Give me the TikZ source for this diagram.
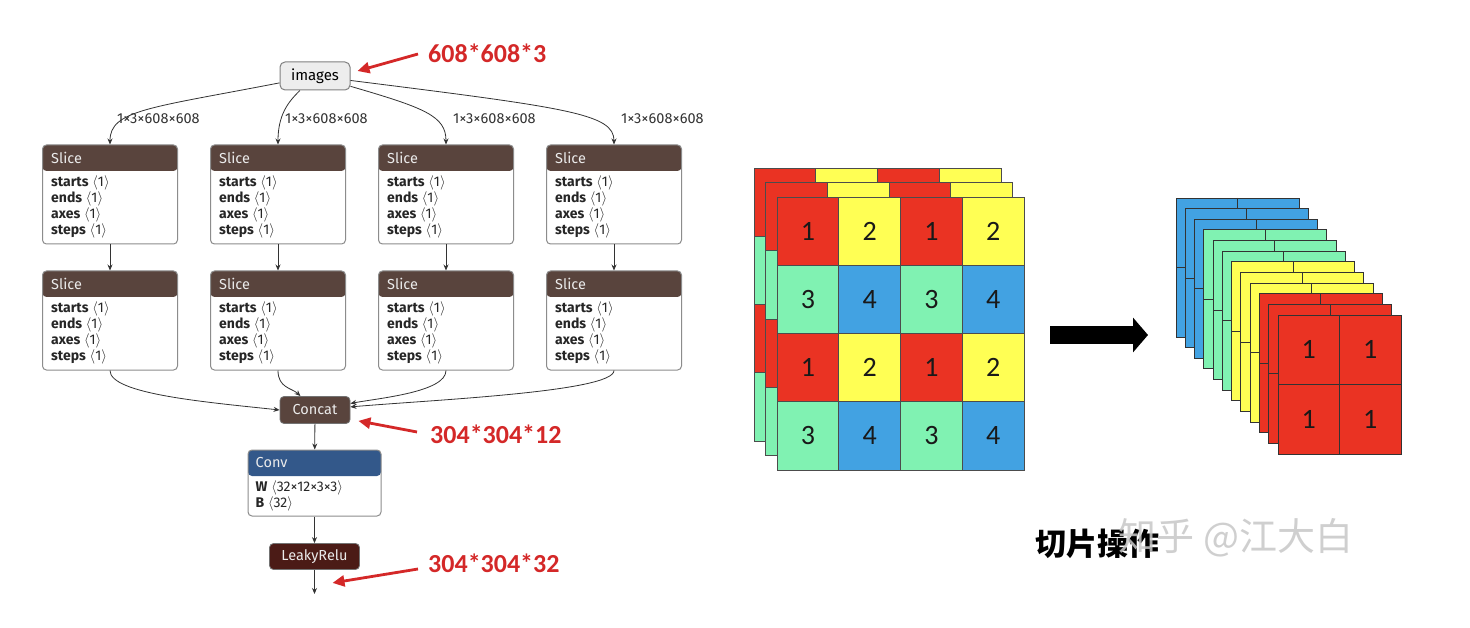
\documentclass[tikz,border=0pt]{standalone}
\usepackage{fontspec}
\setmainfont{Fira Sans}
\newfontfamily\calib{Carlito}
\newfontfamily\cjk{Noto Sans CJK SC}
\usetikzlibrary{arrows.meta, positioning}
\definecolor{tensorbrown}{RGB}{89,68,61}
\definecolor{layerblue}{RGB}{51,88,138}
\definecolor{actred}{RGB}{75,27,22}
\definecolor{lblred}{RGB}{212,40,40}
\definecolor{cellred}{RGB}{234,51,35}
\definecolor{cellyellow}{RGB}{255,255,84}
\definecolor{cellgreen}{RGB}{128,242,178}
\definecolor{cellblue}{RGB}{66,162,226}

\newcommand{\shp}[1]{$\langle$#1$\rangle$}

\tikzset{
  edge/.style={draw=black!80, line width=0.8pt, -{Stealth[length=6pt,width=5pt]}},
  redarrow/.style={draw=lblred, line width=2.8pt, -{Triangle[length=12pt,width=11pt]}},
  redlabel/.style={font=\calib\bfseries\fontsize{26}{30}\selectfont, text=lblred, inner sep=0pt},
  shapelbl/.style={font=\fontsize{14.5}{16}\selectfont, text=black!80, anchor=west, inner sep=0pt},
  opbox/.style={draw=black!45, line width=1pt, fill=white, rounded corners=4pt,
    inner sep=0pt, path picture={\fill[#1] (path picture bounding box.north west)
      rectangle ([yshift=-26pt]path picture bounding box.north east);}},
  hdrtext/.style={font=\fontsize{14.5}{16}\selectfont, text=white!92!black, anchor=west, inner sep=0pt},
  attrtext/.style={font=\fontsize{14}{15}\selectfont, text=black!85, anchor=base west, inner sep=0pt},
  smallop/.style={draw=black!55, line width=0.8pt, rounded corners=4pt, text=white!92!black,
    font=\fontsize{14.5}{16}\selectfont, minimum height=27pt, inner sep=0pt},
  cellline/.style={draw=black!70, line width=0.8pt},
  digit/.style={font=\calib\fontsize{28}{30}\selectfont, text=black!90, inner sep=0pt},
}

\newcommand{\slicenode}[3]{%
  \node (#1) [opbox=tensorbrown, minimum width=135pt, minimum height=99pt] at (#2,#3) {};
  \node (#1t) [hdrtext] at ([xshift=9pt,yshift=-13pt]#1.north west) {Slice};
  \foreach \k/\attr in {0/starts,1/ends,2/axes,3/steps}
    \node (#1\k) [attrtext] at ([xshift=9pt,yshift=-42pt-\k*16pt]#1.north west) {\textbf{\attr} \shp{1}};
}

\begin{document}
\begin{tikzpicture}[x=1pt, y=-1pt]
\useasboundingbox (0,0) rectangle (1470,628);
\fill[white] (0,0) rectangle (1470,628);

% onnx graph
\node (images) [draw=black!50, fill=black!7, line width=1pt, rounded corners=5pt,
  minimum width=70pt, minimum height=28pt, inner sep=0pt, font=\fontsize{15}{17}\selectfont] at (315,76) {images};
\foreach \c/\x in {1/110,2/278,3/446,4/614} {
  \slicenode{s\c a}{\x}{194.5}
  \slicenode{s\c b}{\x}{320.5}
  \node (e\c) [shapelbl] at ([xshift=7pt,yshift=26pt]s\c a.north) {1×3×608×608};
  \draw[edge] (s\c a) -- (s\c b);
}
\draw[edge] (images) .. controls (150,108) and (110,110) .. (s1a.north);
\draw[edge] (images) .. controls (288,102) and (278,115) .. (s2a.north);
\draw[edge] (images) .. controls (425,108) and (446,116) .. (s3a.north);
\draw[edge] (images) .. controls (570,108) and (614,114) .. (s4a.north);

\node (concat) [smallop, fill=tensorbrown, minimum width=70pt] at (315,410) {Concat};
\draw[edge] (s1b.south) .. controls (110,394) and (205,402) .. (concat.west);
\draw[edge] (s2b.south) .. controls (278,388) and (292,388) .. (concat);
\draw[edge] (s3b.south) .. controls (446,392) and (380,398) .. (concat);
\draw[edge] (s4b.south) .. controls (614,392) and (430,400) .. (concat);

\node (conv) [opbox=layerblue, minimum width=133pt, minimum height=66pt] at (314.5,483) {};
\node (convt) [hdrtext] at ([xshift=8pt,yshift=-13pt]conv.north west) {Conv};
\node (convw) [attrtext] at ([xshift=8pt,yshift=-42pt]conv.north west) {\textbf{W} \shp{32×12×3×3}};
\node (convb) [attrtext] at ([xshift=8pt,yshift=-58pt]conv.north west) {\textbf{B} \shp{32}};
\node (relu) [smallop, fill=actred, minimum width=90pt, minimum height=26pt] at (314.5,556.5) {LeakyRelu};
\coordinate (out) at (314.5,594);
\draw[edge] (concat) -- (conv);
\draw[edge] (conv) -- (relu);
\draw[edge] (relu) -- (out);

% red notes
\node (n1) [redlabel, anchor=west] at (428,53) {608*608*3};
\node (n2) [redlabel, anchor=west] at (430,434) {304*304*12};
\node (n3) [redlabel, anchor=west] at (428,563) {304*304*32};
\draw[redarrow] ([xshift=-10pt,yshift=-1pt]n1.west) -- ([xshift=7pt,yshift=5pt]images.east);
\draw[redarrow] ([xshift=-13pt,yshift=2pt]n2.west) -- ([xshift=8pt,yshift=3pt]concat.south east);
\draw[redarrow] ([xshift=-10pt,yshift=-6pt]n3.west) -- ([xshift=18pt,yshift=-13pt]relu.south);

% 4x4 input, three channels
\foreach \l/\dx/\dy in {2/-23/-29,1/-11.5/-14.5,0/0/0} {
  \foreach \r/\ca/\cb in {0/cellred/cellyellow,1/cellgreen/cellblue,2/cellred/cellyellow,3/cellgreen/cellblue} {
    \foreach \c in {0,...,3} {
      \ifodd\c\relax \def\cc{\cb}\else \def\cc{\ca}\fi
      \filldraw[fill=\cc, cellline] (777+\dx+\c*61.75,197+\dy+\r*68.25) rectangle ++(61.75,68.25);
    }
  }
}
\foreach \r/\da/\db in {0/1/2,1/3/4,2/1/2,3/3/4} {
  \foreach \c in {0,...,3} {
    \node (g\r\c) [digit] at (808+\c*61.75,231+\r*68.25) {\ifodd\c\relax\db\else\da\fi};
  }
}

% big arrow
\coordinate (arrS) at (1050,335);
\coordinate (arrE) at (1148,335);
\draw[line width=18pt, -{Triangle[length=15pt,width=34pt]}] (arrS) -- (arrE);

% 2x2 output, twelve channels
\foreach \l in {0,...,11} {
  \pgfmathtruncatemacro{\grp}{int(\l/3)}
  \ifcase\grp \def\lc{cellblue}\or \def\lc{cellgreen}\or \def\lc{cellyellow}\or \def\lc{cellred}\fi
  \filldraw[fill=\lc, draw=black!80, line width=0.9pt] (1176+\l*9.27,198+\l*10.64) rectangle ++(123,139);
  \draw[draw=black!80, line width=0.9pt] (1237.5+\l*9.27,198+\l*10.64) -- ++(0,139);
  \draw[draw=black!80, line width=0.9pt] (1176+\l*9.27,267.5+\l*10.64) -- ++(123,0);
}
\node (o1) [digit] at (1308.75,349.75) {1};
\node (o2) [digit] at (1370.25,349.75) {1};
\node (o3) [digit] at (1308.75,419.25) {1};
\node (o4) [digit] at (1370.25,419.25) {1};

% caption
\node (cap) [inner sep=0pt, font=\cjk\bfseries\fontsize{31}{34}\selectfont] at (1097,544) {切片操作};
\node (wm) [inner sep=0pt, text=black!22, opacity=0.85, font=\cjk\fontsize{38}{40}\selectfont] at (1236,538) {知乎 @江大白};
\end{tikzpicture}
\end{document}
